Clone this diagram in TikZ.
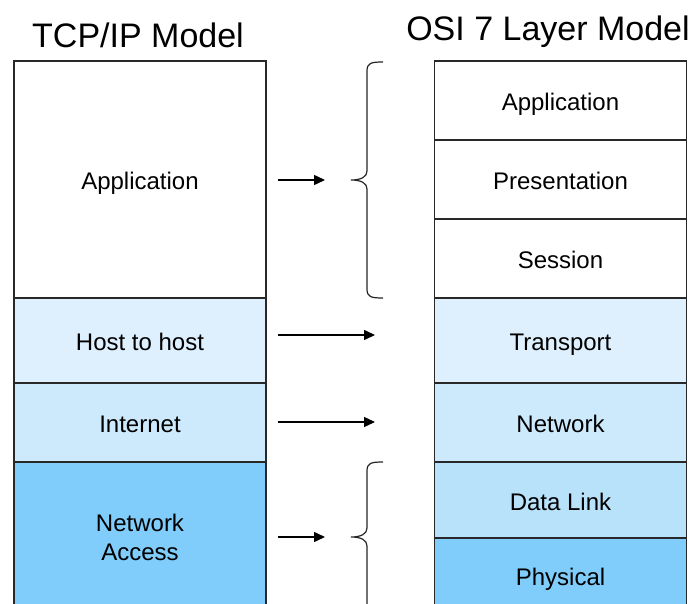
\documentclass[tikz,border=0pt]{standalone}
\usepackage{fontspec}
\setmainfont{Liberation Sans}
\usetikzlibrary{arrows.meta}
\definecolor{c1}{RGB}{222,240,253}
\definecolor{c2}{RGB}{204,234,251}
\definecolor{c3}{RGB}{184,225,250}
\definecolor{c4}{RGB}{128,204,250}
\definecolor{edge}{RGB}{40,40,40}
\tikzset{
  layer/.style={draw=edge, line width=1.3pt, rectangle, minimum width=252pt, inner sep=0pt, font=\fontsize{24}{29}\selectfont, align=center, text=black},
  oneline/.style={text height=20pt, text depth=0pt},
  title/.style={font=\fontsize{34}{38}\selectfont, text=black, inner sep=0pt},
  arr/.style={line width=1.5pt, -{Triangle[length=11pt,width=10pt]}},
  brc/.style={line width=1.2pt, draw=black!85}
}
\begin{document}
\begin{tikzpicture}[x=1pt,y=-1pt]
\useasboundingbox (0,0) rectangle (696,604);
\clip (0,0) rectangle (696,604);
\fill[white] (0,0) rectangle (696,604);
% titles
\node[title] (t1) at (138,35) {TCP/IP Model};
\node[title] (t2) at (548,32) {OSI 7 Layer Model};
% TCP/IP column
\node[layer, oneline, fill=white, minimum height=237pt] (tapp) at (140,179.5) {Application};
\node[layer, oneline, fill=c1, minimum height=85pt] (thost) at (140,340.5) {Host to host};
\node[layer, oneline, fill=c2, minimum height=79pt] (tint) at (140,422.5) {Internet};
\node[layer, fill=c4, minimum height=150pt] (tna) at (140,537) {Network\\Access};
% OSI column
\node[layer, oneline, fill=white, minimum height=79pt] (oapp) at (560.5,100.5) {Application};
\node[layer, oneline, fill=white, minimum height=79pt] (opres) at (560.5,179.5) {Presentation};
\node[layer, oneline, fill=white, minimum height=79pt] (osess) at (560.5,258.5) {Session};
\node[layer, oneline, fill=c1, minimum height=85pt] (otrans) at (560.5,340.5) {Transport};
\node[layer, oneline, fill=c2, minimum height=79pt] (onet) at (560.5,422.5) {Network};
\node[layer, oneline, fill=c3, minimum height=76pt] (odl) at (560.5,500) {Data Link};
\node[layer, oneline, fill=c4, minimum height=74pt] (ophy) at (560.5,575) {Physical};
% braces
\coordinate (b1) at (351,180);
\coordinate (b2) at (351,537);
\coordinate (h1) at (375,335);
\coordinate (h2) at (375,422);
\draw[brc] (383,62) .. controls (371,62) and (367,63) .. (367,71) -- (367,171)
  .. controls (367,177) and (361,180) .. (b1)
  .. controls (361,180) and (367,183) .. (367,189) -- (367,289)
  .. controls (367,297) and (371,298) .. (383,298);
\draw[brc] (383,462) .. controls (371,462) and (367,463) .. (367,471) -- (367,528)
  .. controls (367,534) and (361,537) .. (b2)
  .. controls (361,537) and (367,540) .. (367,546) -- (367,603)
  .. controls (367,611) and (371,612) .. (383,612);
% arrows
\draw[arr, shorten <=11pt, shorten >=26pt] (tapp.east |- b1) -- (b1);
\draw[arr, shorten <=11pt] (thost.east |- h1) -- (h1);
\draw[arr, shorten <=11pt] (tint.east |- h2) -- (h2);
\draw[arr, shorten <=11pt, shorten >=26pt] (tna.east |- b2) -- (b2);
\end{tikzpicture}
\end{document}
